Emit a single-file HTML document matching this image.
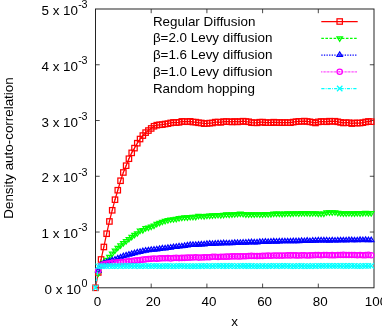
<!DOCTYPE html>
<html><head><meta charset="utf-8"><title>plot</title>
<style>html,body{margin:0;padding:0;background:#fff;overflow:hidden}body{width:382px;height:331px;position:relative;font-family:"Liberation Sans",sans-serif}</style>
</head><body>
<svg width="382" height="331" viewBox="0 0 382 331" style="display:block;position:absolute;left:0;top:0;will-change:transform" font-family="Liberation Sans, sans-serif" font-size="13.4px" fill="#000">
<rect width="382" height="331" fill="#fff"/>
<defs>
<g id="mr"><rect x="-2.7" y="-2.7" width="5.4" height="5.4" fill="none" stroke="#f00" stroke-width="1.25"/><rect x="-0.5" y="-0.5" width="1" height="1" fill="#f00"/></g>
<g id="mg"><path d="M-2.7,-1.35 L2.7,-1.35 L0,3.02 Z" fill="none" stroke="#0f0" stroke-width="1.25" stroke-linejoin="miter"/><rect x="-0.65" y="-0.65" width="1.3" height="1.3" fill="#0f0"/></g>
<g id="mb"><path d="M-2.7,1.35 L2.7,1.35 L0,-3.02 Z" fill="none" stroke="#00f" stroke-width="1.25" stroke-linejoin="miter"/><rect x="-0.65" y="-0.65" width="1.3" height="1.3" fill="#00f"/></g>
<g id="mm"><circle r="2.7" fill="none" stroke="#f0f" stroke-width="1.25"/><rect x="-0.5" y="-0.5" width="1" height="1" fill="#f0f"/></g>
<g id="mc"><path d="M-2.7,-2.7 L2.7,2.7 M-2.7,2.7 L2.7,-2.7" fill="none" stroke="#0ff" stroke-width="1.25"/></g>
</defs>
<rect x="95.5" y="9.0" width="278.5" height="278.8" fill="none" stroke="#1a1a1a" stroke-width="0.95"/>
<text x="97.50" y="305.6" text-anchor="middle">0</text>
<text x="86.9" y="293.80" text-anchor="end">0 x 10<tspan font-size="10.72px" dx="0.4" dy="-6.6" letter-spacing="-0.5">0</tspan></text>
<path d="M151.20,287.8 v-4.2 M151.20,9.0 v4.2 M95.5,232.04 h4.2 M374.0,232.04 h-4.2" stroke="#1a1a1a" stroke-width="0.8" fill="none"/>
<text x="153.20" y="305.6" text-anchor="middle">20</text>
<text x="86.9" y="238.04" text-anchor="end">1 x 10<tspan font-size="10.72px" dx="0.4" dy="-6.6" letter-spacing="-0.5">-3</tspan></text>
<path d="M206.90,287.8 v-4.2 M206.90,9.0 v4.2 M95.5,176.28 h4.2 M374.0,176.28 h-4.2" stroke="#1a1a1a" stroke-width="0.8" fill="none"/>
<text x="208.90" y="305.6" text-anchor="middle">40</text>
<text x="86.9" y="182.28" text-anchor="end">2 x 10<tspan font-size="10.72px" dx="0.4" dy="-6.6" letter-spacing="-0.5">-3</tspan></text>
<path d="M262.60,287.8 v-4.2 M262.60,9.0 v4.2 M95.5,120.52 h4.2 M374.0,120.52 h-4.2" stroke="#1a1a1a" stroke-width="0.8" fill="none"/>
<text x="264.60" y="305.6" text-anchor="middle">60</text>
<text x="86.9" y="126.52" text-anchor="end">3 x 10<tspan font-size="10.72px" dx="0.4" dy="-6.6" letter-spacing="-0.5">-3</tspan></text>
<path d="M318.30,287.8 v-4.2 M318.30,9.0 v4.2 M95.5,64.76 h4.2 M374.0,64.76 h-4.2" stroke="#1a1a1a" stroke-width="0.8" fill="none"/>
<text x="320.30" y="305.6" text-anchor="middle">80</text>
<text x="86.9" y="70.76" text-anchor="end">4 x 10<tspan font-size="10.72px" dx="0.4" dy="-6.6" letter-spacing="-0.5">-3</tspan></text>
<text x="376.00" y="305.6" text-anchor="middle">100</text>
<text x="86.9" y="15.00" text-anchor="end">5 x 10<tspan font-size="10.72px" dx="0.4" dy="-6.6" letter-spacing="-0.5">-3</tspan></text>
<clipPath id="cp"><rect x="0" y="0" width="382" height="331"/></clipPath>
<polyline points="95.50,287.80 98.28,272.47 101.07,259.47 103.86,246.98 106.64,233.71 109.42,221.45 112.21,210.29 115.00,199.70 117.78,190.22 120.56,180.74 123.35,172.49 126.14,165.69 128.92,158.72 131.70,152.86 134.49,148.12 137.28,143.21 140.06,139.03 142.84,135.58 145.63,132.62 148.41,130.56 151.20,128.44 153.99,126.26 156.77,125.15 159.56,124.78 162.34,124.62 165.12,124.03 167.91,123.68 170.69,122.93 173.48,122.44 176.26,122.59 179.05,122.34 181.83,121.41 184.62,121.57 187.41,121.74 190.19,121.34 192.97,122.05 195.76,122.13 198.55,122.77 201.33,122.98 204.12,123.65 206.90,123.44 209.69,123.11 212.47,122.97 215.25,122.14 218.04,122.05 220.82,122.36 223.61,121.60 226.40,121.58 229.18,121.71 231.97,121.98 234.75,121.47 237.53,121.92 240.32,121.54 243.10,121.18 245.89,121.53 248.68,121.78 251.46,122.62 254.25,122.75 257.03,122.83 259.81,122.19 262.60,122.11 265.38,122.63 268.17,122.67 270.96,122.68 273.74,122.17 276.52,122.63 279.31,122.47 282.10,122.70 284.88,122.53 287.66,122.64 290.45,122.70 293.24,122.11 296.02,121.72 298.81,121.36 301.59,121.41 304.38,121.10 307.16,121.49 309.94,121.82 312.73,122.33 315.51,122.96 318.30,121.89 321.09,121.55 323.87,121.60 326.65,121.77 329.44,121.18 332.23,121.35 335.01,121.22 337.79,121.79 340.58,122.39 343.37,122.97 346.15,122.69 348.94,122.73 351.72,123.58 354.50,122.94 357.29,123.05 360.07,123.05 362.86,122.66 365.64,121.97 368.43,121.47 371.21,121.66" fill="none" stroke="#f00" stroke-width="1.25"/>
<use href="#mr" x="95.50" y="287.80"/>
<use href="#mr" x="98.28" y="272.47"/>
<use href="#mr" x="101.07" y="259.47"/>
<use href="#mr" x="103.86" y="246.98"/>
<use href="#mr" x="106.64" y="233.71"/>
<use href="#mr" x="109.42" y="221.45"/>
<use href="#mr" x="112.21" y="210.29"/>
<use href="#mr" x="115.00" y="199.70"/>
<use href="#mr" x="117.78" y="190.22"/>
<use href="#mr" x="120.56" y="180.74"/>
<use href="#mr" x="123.35" y="172.49"/>
<use href="#mr" x="126.14" y="165.69"/>
<use href="#mr" x="128.92" y="158.72"/>
<use href="#mr" x="131.70" y="152.86"/>
<use href="#mr" x="134.49" y="148.12"/>
<use href="#mr" x="137.28" y="143.21"/>
<use href="#mr" x="140.06" y="139.03"/>
<use href="#mr" x="142.84" y="135.58"/>
<use href="#mr" x="145.63" y="132.62"/>
<use href="#mr" x="148.41" y="130.56"/>
<use href="#mr" x="151.20" y="128.44"/>
<use href="#mr" x="153.99" y="126.26"/>
<use href="#mr" x="156.77" y="125.15"/>
<use href="#mr" x="159.56" y="124.78"/>
<use href="#mr" x="162.34" y="124.62"/>
<use href="#mr" x="165.12" y="124.03"/>
<use href="#mr" x="167.91" y="123.68"/>
<use href="#mr" x="170.69" y="122.93"/>
<use href="#mr" x="173.48" y="122.44"/>
<use href="#mr" x="176.26" y="122.59"/>
<use href="#mr" x="179.05" y="122.34"/>
<use href="#mr" x="181.83" y="121.41"/>
<use href="#mr" x="184.62" y="121.57"/>
<use href="#mr" x="187.41" y="121.74"/>
<use href="#mr" x="190.19" y="121.34"/>
<use href="#mr" x="192.97" y="122.05"/>
<use href="#mr" x="195.76" y="122.13"/>
<use href="#mr" x="198.55" y="122.77"/>
<use href="#mr" x="201.33" y="122.98"/>
<use href="#mr" x="204.12" y="123.65"/>
<use href="#mr" x="206.90" y="123.44"/>
<use href="#mr" x="209.69" y="123.11"/>
<use href="#mr" x="212.47" y="122.97"/>
<use href="#mr" x="215.25" y="122.14"/>
<use href="#mr" x="218.04" y="122.05"/>
<use href="#mr" x="220.82" y="122.36"/>
<use href="#mr" x="223.61" y="121.60"/>
<use href="#mr" x="226.40" y="121.58"/>
<use href="#mr" x="229.18" y="121.71"/>
<use href="#mr" x="231.97" y="121.98"/>
<use href="#mr" x="234.75" y="121.47"/>
<use href="#mr" x="237.53" y="121.92"/>
<use href="#mr" x="240.32" y="121.54"/>
<use href="#mr" x="243.10" y="121.18"/>
<use href="#mr" x="245.89" y="121.53"/>
<use href="#mr" x="248.68" y="121.78"/>
<use href="#mr" x="251.46" y="122.62"/>
<use href="#mr" x="254.25" y="122.75"/>
<use href="#mr" x="257.03" y="122.83"/>
<use href="#mr" x="259.81" y="122.19"/>
<use href="#mr" x="262.60" y="122.11"/>
<use href="#mr" x="265.38" y="122.63"/>
<use href="#mr" x="268.17" y="122.67"/>
<use href="#mr" x="270.96" y="122.68"/>
<use href="#mr" x="273.74" y="122.17"/>
<use href="#mr" x="276.52" y="122.63"/>
<use href="#mr" x="279.31" y="122.47"/>
<use href="#mr" x="282.10" y="122.70"/>
<use href="#mr" x="284.88" y="122.53"/>
<use href="#mr" x="287.66" y="122.64"/>
<use href="#mr" x="290.45" y="122.70"/>
<use href="#mr" x="293.24" y="122.11"/>
<use href="#mr" x="296.02" y="121.72"/>
<use href="#mr" x="298.81" y="121.36"/>
<use href="#mr" x="301.59" y="121.41"/>
<use href="#mr" x="304.38" y="121.10"/>
<use href="#mr" x="307.16" y="121.49"/>
<use href="#mr" x="309.94" y="121.82"/>
<use href="#mr" x="312.73" y="122.33"/>
<use href="#mr" x="315.51" y="122.96"/>
<use href="#mr" x="318.30" y="121.89"/>
<use href="#mr" x="321.09" y="121.55"/>
<use href="#mr" x="323.87" y="121.60"/>
<use href="#mr" x="326.65" y="121.77"/>
<use href="#mr" x="329.44" y="121.18"/>
<use href="#mr" x="332.23" y="121.35"/>
<use href="#mr" x="335.01" y="121.22"/>
<use href="#mr" x="337.79" y="121.79"/>
<use href="#mr" x="340.58" y="122.39"/>
<use href="#mr" x="343.37" y="122.97"/>
<use href="#mr" x="346.15" y="122.69"/>
<use href="#mr" x="348.94" y="122.73"/>
<use href="#mr" x="351.72" y="123.58"/>
<use href="#mr" x="354.50" y="122.94"/>
<use href="#mr" x="357.29" y="123.05"/>
<use href="#mr" x="360.07" y="123.05"/>
<use href="#mr" x="362.86" y="122.66"/>
<use href="#mr" x="365.64" y="121.97"/>
<use href="#mr" x="368.43" y="121.47"/>
<use href="#mr" x="371.21" y="121.66"/>
<polyline points="98.28,273.30 101.07,264.94 103.86,262.43 106.64,259.64 109.42,256.69 112.21,253.51 115.00,250.39 117.78,247.65 120.56,245.26 123.35,243.02 126.14,241.07 128.92,238.90 131.70,236.84 134.49,234.77 137.28,233.10 140.06,230.48 142.84,229.92 145.63,228.03 148.41,227.58 151.20,226.46 153.99,225.52 156.77,223.79 159.56,222.67 162.34,221.61 165.12,220.84 167.91,220.08 170.69,219.38 173.48,219.12 176.26,218.81 179.05,218.03 181.83,217.62 184.62,217.23 187.41,217.30 190.19,216.91 192.97,216.70 195.76,216.68 198.55,215.67 201.33,215.90 204.12,216.00 206.90,215.66 209.69,215.57 212.47,215.32 215.25,215.12 218.04,214.90 220.82,214.94 223.61,214.82 226.40,214.34 229.18,214.52 231.97,214.17 234.75,214.13 237.53,213.87 240.32,213.51 243.10,213.87 245.89,214.21 248.68,214.27 251.46,214.28 254.25,214.25 257.03,214.11 259.81,214.24 262.60,214.22 265.38,214.03 268.17,214.10 270.96,213.92 273.74,213.47 276.52,213.56 279.31,213.49 282.10,213.67 284.88,213.43 287.66,213.30 290.45,213.49 293.24,213.18 296.02,213.13 298.81,213.35 301.59,213.07 304.38,213.10 307.16,213.04 309.94,213.23 312.73,213.11 315.51,213.14 318.30,213.57 321.09,213.66 323.87,213.49 326.65,212.24 329.44,212.30 332.23,212.21 335.01,212.15 337.79,212.72 340.58,213.15 343.37,213.20 346.15,213.20 348.94,213.13 351.72,213.26 354.50,213.17 357.29,212.93 360.07,213.20 362.86,212.93 365.64,212.84 368.43,213.02 371.21,213.04" fill="none" stroke="#0f0" stroke-width="1.25" stroke-dasharray="2.6 1.5"/>
<use href="#mg" x="98.28" y="273.30"/>
<use href="#mg" x="101.07" y="264.94"/>
<use href="#mg" x="103.86" y="262.43"/>
<use href="#mg" x="106.64" y="259.64"/>
<use href="#mg" x="109.42" y="256.69"/>
<use href="#mg" x="112.21" y="253.51"/>
<use href="#mg" x="115.00" y="250.39"/>
<use href="#mg" x="117.78" y="247.65"/>
<use href="#mg" x="120.56" y="245.26"/>
<use href="#mg" x="123.35" y="243.02"/>
<use href="#mg" x="126.14" y="241.07"/>
<use href="#mg" x="128.92" y="238.90"/>
<use href="#mg" x="131.70" y="236.84"/>
<use href="#mg" x="134.49" y="234.77"/>
<use href="#mg" x="137.28" y="233.10"/>
<use href="#mg" x="140.06" y="230.48"/>
<use href="#mg" x="142.84" y="229.92"/>
<use href="#mg" x="145.63" y="228.03"/>
<use href="#mg" x="148.41" y="227.58"/>
<use href="#mg" x="151.20" y="226.46"/>
<use href="#mg" x="153.99" y="225.52"/>
<use href="#mg" x="156.77" y="223.79"/>
<use href="#mg" x="159.56" y="222.67"/>
<use href="#mg" x="162.34" y="221.61"/>
<use href="#mg" x="165.12" y="220.84"/>
<use href="#mg" x="167.91" y="220.08"/>
<use href="#mg" x="170.69" y="219.38"/>
<use href="#mg" x="173.48" y="219.12"/>
<use href="#mg" x="176.26" y="218.81"/>
<use href="#mg" x="179.05" y="218.03"/>
<use href="#mg" x="181.83" y="217.62"/>
<use href="#mg" x="184.62" y="217.23"/>
<use href="#mg" x="187.41" y="217.30"/>
<use href="#mg" x="190.19" y="216.91"/>
<use href="#mg" x="192.97" y="216.70"/>
<use href="#mg" x="195.76" y="216.68"/>
<use href="#mg" x="198.55" y="215.67"/>
<use href="#mg" x="201.33" y="215.90"/>
<use href="#mg" x="204.12" y="216.00"/>
<use href="#mg" x="206.90" y="215.66"/>
<use href="#mg" x="209.69" y="215.57"/>
<use href="#mg" x="212.47" y="215.32"/>
<use href="#mg" x="215.25" y="215.12"/>
<use href="#mg" x="218.04" y="214.90"/>
<use href="#mg" x="220.82" y="214.94"/>
<use href="#mg" x="223.61" y="214.82"/>
<use href="#mg" x="226.40" y="214.34"/>
<use href="#mg" x="229.18" y="214.52"/>
<use href="#mg" x="231.97" y="214.17"/>
<use href="#mg" x="234.75" y="214.13"/>
<use href="#mg" x="237.53" y="213.87"/>
<use href="#mg" x="240.32" y="213.51"/>
<use href="#mg" x="243.10" y="213.87"/>
<use href="#mg" x="245.89" y="214.21"/>
<use href="#mg" x="248.68" y="214.27"/>
<use href="#mg" x="251.46" y="214.28"/>
<use href="#mg" x="254.25" y="214.25"/>
<use href="#mg" x="257.03" y="214.11"/>
<use href="#mg" x="259.81" y="214.24"/>
<use href="#mg" x="262.60" y="214.22"/>
<use href="#mg" x="265.38" y="214.03"/>
<use href="#mg" x="268.17" y="214.10"/>
<use href="#mg" x="270.96" y="213.92"/>
<use href="#mg" x="273.74" y="213.47"/>
<use href="#mg" x="276.52" y="213.56"/>
<use href="#mg" x="279.31" y="213.49"/>
<use href="#mg" x="282.10" y="213.67"/>
<use href="#mg" x="284.88" y="213.43"/>
<use href="#mg" x="287.66" y="213.30"/>
<use href="#mg" x="290.45" y="213.49"/>
<use href="#mg" x="293.24" y="213.18"/>
<use href="#mg" x="296.02" y="213.13"/>
<use href="#mg" x="298.81" y="213.35"/>
<use href="#mg" x="301.59" y="213.07"/>
<use href="#mg" x="304.38" y="213.10"/>
<use href="#mg" x="307.16" y="213.04"/>
<use href="#mg" x="309.94" y="213.23"/>
<use href="#mg" x="312.73" y="213.11"/>
<use href="#mg" x="315.51" y="213.14"/>
<use href="#mg" x="318.30" y="213.57"/>
<use href="#mg" x="321.09" y="213.66"/>
<use href="#mg" x="323.87" y="213.49"/>
<use href="#mg" x="326.65" y="212.24"/>
<use href="#mg" x="329.44" y="212.30"/>
<use href="#mg" x="332.23" y="212.21"/>
<use href="#mg" x="335.01" y="212.15"/>
<use href="#mg" x="337.79" y="212.72"/>
<use href="#mg" x="340.58" y="213.15"/>
<use href="#mg" x="343.37" y="213.20"/>
<use href="#mg" x="346.15" y="213.20"/>
<use href="#mg" x="348.94" y="213.13"/>
<use href="#mg" x="351.72" y="213.26"/>
<use href="#mg" x="354.50" y="213.17"/>
<use href="#mg" x="357.29" y="212.93"/>
<use href="#mg" x="360.07" y="213.20"/>
<use href="#mg" x="362.86" y="212.93"/>
<use href="#mg" x="365.64" y="212.84"/>
<use href="#mg" x="368.43" y="213.02"/>
<use href="#mg" x="371.21" y="213.04"/>
<polyline points="98.28,271.07 101.07,264.94 103.86,263.27 106.64,262.15 109.42,261.31 112.21,260.48 115.00,259.64 117.78,258.53 120.56,257.41 123.35,256.30 126.14,255.46 128.92,254.73 131.70,253.95 134.49,253.26 137.28,252.56 140.06,251.91 142.84,251.25 145.63,250.77 148.41,250.35 151.20,249.84 153.99,249.75 156.77,249.44 159.56,248.99 162.34,248.54 165.12,248.47 167.91,248.04 170.69,247.69 173.48,247.12 176.26,246.95 179.05,246.41 181.83,246.36 184.62,245.94 187.41,245.45 190.19,245.01 192.97,245.03 195.76,244.95 198.55,244.82 201.33,244.46 204.12,244.43 206.90,243.98 209.69,243.78 212.47,243.97 215.25,243.82 218.04,243.49 220.82,243.46 223.61,243.29 226.40,243.39 229.18,243.39 231.97,243.21 234.75,242.89 237.53,243.02 240.32,242.89 243.10,242.76 245.89,242.65 248.68,242.56 251.46,242.24 254.25,242.50 257.03,242.48 259.81,241.98 262.60,241.93 265.38,241.80 268.17,241.96 270.96,241.65 273.74,241.58 276.52,241.81 279.31,241.50 282.10,241.38 284.88,241.37 287.66,241.35 290.45,241.38 293.24,241.30 296.02,241.30 298.81,241.32 301.59,241.03 304.38,241.11 307.16,240.82 309.94,241.11 312.73,240.67 315.51,240.71 318.30,240.55 321.09,240.51 323.87,240.46 326.65,240.55 329.44,240.74 332.23,240.38 335.01,240.61 337.79,240.53 340.58,240.34 343.37,240.38 346.15,240.40 348.94,240.14 351.72,240.26 354.50,240.35 357.29,240.37 360.07,240.07 362.86,240.21 365.64,240.05 368.43,240.22 371.21,240.26" fill="none" stroke="#00f" stroke-width="1.25" stroke-dasharray="1.3 1.3"/>
<use href="#mb" x="98.28" y="271.07"/>
<use href="#mb" x="101.07" y="264.94"/>
<use href="#mb" x="103.86" y="263.27"/>
<use href="#mb" x="106.64" y="262.15"/>
<use href="#mb" x="109.42" y="261.31"/>
<use href="#mb" x="112.21" y="260.48"/>
<use href="#mb" x="115.00" y="259.64"/>
<use href="#mb" x="117.78" y="258.53"/>
<use href="#mb" x="120.56" y="257.41"/>
<use href="#mb" x="123.35" y="256.30"/>
<use href="#mb" x="126.14" y="255.46"/>
<use href="#mb" x="128.92" y="254.73"/>
<use href="#mb" x="131.70" y="253.95"/>
<use href="#mb" x="134.49" y="253.26"/>
<use href="#mb" x="137.28" y="252.56"/>
<use href="#mb" x="140.06" y="251.91"/>
<use href="#mb" x="142.84" y="251.25"/>
<use href="#mb" x="145.63" y="250.77"/>
<use href="#mb" x="148.41" y="250.35"/>
<use href="#mb" x="151.20" y="249.84"/>
<use href="#mb" x="153.99" y="249.75"/>
<use href="#mb" x="156.77" y="249.44"/>
<use href="#mb" x="159.56" y="248.99"/>
<use href="#mb" x="162.34" y="248.54"/>
<use href="#mb" x="165.12" y="248.47"/>
<use href="#mb" x="167.91" y="248.04"/>
<use href="#mb" x="170.69" y="247.69"/>
<use href="#mb" x="173.48" y="247.12"/>
<use href="#mb" x="176.26" y="246.95"/>
<use href="#mb" x="179.05" y="246.41"/>
<use href="#mb" x="181.83" y="246.36"/>
<use href="#mb" x="184.62" y="245.94"/>
<use href="#mb" x="187.41" y="245.45"/>
<use href="#mb" x="190.19" y="245.01"/>
<use href="#mb" x="192.97" y="245.03"/>
<use href="#mb" x="195.76" y="244.95"/>
<use href="#mb" x="198.55" y="244.82"/>
<use href="#mb" x="201.33" y="244.46"/>
<use href="#mb" x="204.12" y="244.43"/>
<use href="#mb" x="206.90" y="243.98"/>
<use href="#mb" x="209.69" y="243.78"/>
<use href="#mb" x="212.47" y="243.97"/>
<use href="#mb" x="215.25" y="243.82"/>
<use href="#mb" x="218.04" y="243.49"/>
<use href="#mb" x="220.82" y="243.46"/>
<use href="#mb" x="223.61" y="243.29"/>
<use href="#mb" x="226.40" y="243.39"/>
<use href="#mb" x="229.18" y="243.39"/>
<use href="#mb" x="231.97" y="243.21"/>
<use href="#mb" x="234.75" y="242.89"/>
<use href="#mb" x="237.53" y="243.02"/>
<use href="#mb" x="240.32" y="242.89"/>
<use href="#mb" x="243.10" y="242.76"/>
<use href="#mb" x="245.89" y="242.65"/>
<use href="#mb" x="248.68" y="242.56"/>
<use href="#mb" x="251.46" y="242.24"/>
<use href="#mb" x="254.25" y="242.50"/>
<use href="#mb" x="257.03" y="242.48"/>
<use href="#mb" x="259.81" y="241.98"/>
<use href="#mb" x="262.60" y="241.93"/>
<use href="#mb" x="265.38" y="241.80"/>
<use href="#mb" x="268.17" y="241.96"/>
<use href="#mb" x="270.96" y="241.65"/>
<use href="#mb" x="273.74" y="241.58"/>
<use href="#mb" x="276.52" y="241.81"/>
<use href="#mb" x="279.31" y="241.50"/>
<use href="#mb" x="282.10" y="241.38"/>
<use href="#mb" x="284.88" y="241.37"/>
<use href="#mb" x="287.66" y="241.35"/>
<use href="#mb" x="290.45" y="241.38"/>
<use href="#mb" x="293.24" y="241.30"/>
<use href="#mb" x="296.02" y="241.30"/>
<use href="#mb" x="298.81" y="241.32"/>
<use href="#mb" x="301.59" y="241.03"/>
<use href="#mb" x="304.38" y="241.11"/>
<use href="#mb" x="307.16" y="240.82"/>
<use href="#mb" x="309.94" y="241.11"/>
<use href="#mb" x="312.73" y="240.67"/>
<use href="#mb" x="315.51" y="240.71"/>
<use href="#mb" x="318.30" y="240.55"/>
<use href="#mb" x="321.09" y="240.51"/>
<use href="#mb" x="323.87" y="240.46"/>
<use href="#mb" x="326.65" y="240.55"/>
<use href="#mb" x="329.44" y="240.74"/>
<use href="#mb" x="332.23" y="240.38"/>
<use href="#mb" x="335.01" y="240.61"/>
<use href="#mb" x="337.79" y="240.53"/>
<use href="#mb" x="340.58" y="240.34"/>
<use href="#mb" x="343.37" y="240.38"/>
<use href="#mb" x="346.15" y="240.40"/>
<use href="#mb" x="348.94" y="240.14"/>
<use href="#mb" x="351.72" y="240.26"/>
<use href="#mb" x="354.50" y="240.35"/>
<use href="#mb" x="357.29" y="240.37"/>
<use href="#mb" x="360.07" y="240.07"/>
<use href="#mb" x="362.86" y="240.21"/>
<use href="#mb" x="365.64" y="240.05"/>
<use href="#mb" x="368.43" y="240.22"/>
<use href="#mb" x="371.21" y="240.26"/>
<polyline points="98.28,270.51 101.07,265.50 103.86,264.38 106.64,263.82 109.42,263.27 112.21,262.93 115.00,262.63 117.78,262.41 120.56,262.19 123.35,261.97 126.14,261.66 128.92,261.33 131.70,261.00 134.49,260.67 137.28,260.34 140.06,260.01 142.84,259.68 145.63,259.35 148.41,259.01 151.20,258.76 153.99,258.54 156.77,258.75 159.56,258.38 162.34,258.24 165.12,258.21 167.91,258.11 170.69,258.39 173.48,258.03 176.26,257.84 179.05,258.11 181.83,257.93 184.62,257.84 187.41,257.64 190.19,257.60 192.97,257.50 195.76,257.29 198.55,257.56 201.33,257.46 204.12,257.35 206.90,257.27 209.69,257.22 212.47,256.75 215.25,256.73 218.04,257.00 220.82,256.75 223.61,256.76 226.40,256.69 229.18,256.61 231.97,256.40 234.75,256.36 237.53,256.39 240.32,256.40 243.10,256.27 245.89,256.29 248.68,256.03 251.46,255.90 254.25,256.01 257.03,256.10 259.81,256.01 262.60,255.88 265.38,255.73 268.17,255.61 270.96,255.75 273.74,255.52 276.52,255.55 279.31,255.60 282.10,255.58 284.88,255.48 287.66,255.35 290.45,255.44 293.24,255.29 296.02,255.38 298.81,255.46 301.59,255.31 304.38,255.22 307.16,255.47 309.94,255.30 312.73,255.28 315.51,255.06 318.30,255.01 321.09,255.24 323.87,254.99 326.65,255.02 329.44,255.23 332.23,255.13 335.01,255.28 337.79,254.96 340.58,255.02 343.37,254.92 346.15,254.95 348.94,255.00 351.72,254.96 354.50,255.03 357.29,255.23 360.07,255.00 362.86,255.26 365.64,255.19 368.43,254.90 371.21,255.22" fill="none" stroke="#f0f" stroke-width="1.25" stroke-dasharray="0.7 0.7"/>
<use href="#mm" x="98.28" y="270.51"/>
<use href="#mm" x="101.07" y="265.50"/>
<use href="#mm" x="103.86" y="264.38"/>
<use href="#mm" x="106.64" y="263.82"/>
<use href="#mm" x="109.42" y="263.27"/>
<use href="#mm" x="112.21" y="262.93"/>
<use href="#mm" x="115.00" y="262.63"/>
<use href="#mm" x="117.78" y="262.41"/>
<use href="#mm" x="120.56" y="262.19"/>
<use href="#mm" x="123.35" y="261.97"/>
<use href="#mm" x="126.14" y="261.66"/>
<use href="#mm" x="128.92" y="261.33"/>
<use href="#mm" x="131.70" y="261.00"/>
<use href="#mm" x="134.49" y="260.67"/>
<use href="#mm" x="137.28" y="260.34"/>
<use href="#mm" x="140.06" y="260.01"/>
<use href="#mm" x="142.84" y="259.68"/>
<use href="#mm" x="145.63" y="259.35"/>
<use href="#mm" x="148.41" y="259.01"/>
<use href="#mm" x="151.20" y="258.76"/>
<use href="#mm" x="153.99" y="258.54"/>
<use href="#mm" x="156.77" y="258.75"/>
<use href="#mm" x="159.56" y="258.38"/>
<use href="#mm" x="162.34" y="258.24"/>
<use href="#mm" x="165.12" y="258.21"/>
<use href="#mm" x="167.91" y="258.11"/>
<use href="#mm" x="170.69" y="258.39"/>
<use href="#mm" x="173.48" y="258.03"/>
<use href="#mm" x="176.26" y="257.84"/>
<use href="#mm" x="179.05" y="258.11"/>
<use href="#mm" x="181.83" y="257.93"/>
<use href="#mm" x="184.62" y="257.84"/>
<use href="#mm" x="187.41" y="257.64"/>
<use href="#mm" x="190.19" y="257.60"/>
<use href="#mm" x="192.97" y="257.50"/>
<use href="#mm" x="195.76" y="257.29"/>
<use href="#mm" x="198.55" y="257.56"/>
<use href="#mm" x="201.33" y="257.46"/>
<use href="#mm" x="204.12" y="257.35"/>
<use href="#mm" x="206.90" y="257.27"/>
<use href="#mm" x="209.69" y="257.22"/>
<use href="#mm" x="212.47" y="256.75"/>
<use href="#mm" x="215.25" y="256.73"/>
<use href="#mm" x="218.04" y="257.00"/>
<use href="#mm" x="220.82" y="256.75"/>
<use href="#mm" x="223.61" y="256.76"/>
<use href="#mm" x="226.40" y="256.69"/>
<use href="#mm" x="229.18" y="256.61"/>
<use href="#mm" x="231.97" y="256.40"/>
<use href="#mm" x="234.75" y="256.36"/>
<use href="#mm" x="237.53" y="256.39"/>
<use href="#mm" x="240.32" y="256.40"/>
<use href="#mm" x="243.10" y="256.27"/>
<use href="#mm" x="245.89" y="256.29"/>
<use href="#mm" x="248.68" y="256.03"/>
<use href="#mm" x="251.46" y="255.90"/>
<use href="#mm" x="254.25" y="256.01"/>
<use href="#mm" x="257.03" y="256.10"/>
<use href="#mm" x="259.81" y="256.01"/>
<use href="#mm" x="262.60" y="255.88"/>
<use href="#mm" x="265.38" y="255.73"/>
<use href="#mm" x="268.17" y="255.61"/>
<use href="#mm" x="270.96" y="255.75"/>
<use href="#mm" x="273.74" y="255.52"/>
<use href="#mm" x="276.52" y="255.55"/>
<use href="#mm" x="279.31" y="255.60"/>
<use href="#mm" x="282.10" y="255.58"/>
<use href="#mm" x="284.88" y="255.48"/>
<use href="#mm" x="287.66" y="255.35"/>
<use href="#mm" x="290.45" y="255.44"/>
<use href="#mm" x="293.24" y="255.29"/>
<use href="#mm" x="296.02" y="255.38"/>
<use href="#mm" x="298.81" y="255.46"/>
<use href="#mm" x="301.59" y="255.31"/>
<use href="#mm" x="304.38" y="255.22"/>
<use href="#mm" x="307.16" y="255.47"/>
<use href="#mm" x="309.94" y="255.30"/>
<use href="#mm" x="312.73" y="255.28"/>
<use href="#mm" x="315.51" y="255.06"/>
<use href="#mm" x="318.30" y="255.01"/>
<use href="#mm" x="321.09" y="255.24"/>
<use href="#mm" x="323.87" y="254.99"/>
<use href="#mm" x="326.65" y="255.02"/>
<use href="#mm" x="329.44" y="255.23"/>
<use href="#mm" x="332.23" y="255.13"/>
<use href="#mm" x="335.01" y="255.28"/>
<use href="#mm" x="337.79" y="254.96"/>
<use href="#mm" x="340.58" y="255.02"/>
<use href="#mm" x="343.37" y="254.92"/>
<use href="#mm" x="346.15" y="254.95"/>
<use href="#mm" x="348.94" y="255.00"/>
<use href="#mm" x="351.72" y="254.96"/>
<use href="#mm" x="354.50" y="255.03"/>
<use href="#mm" x="357.29" y="255.23"/>
<use href="#mm" x="360.07" y="255.00"/>
<use href="#mm" x="362.86" y="255.26"/>
<use href="#mm" x="365.64" y="255.19"/>
<use href="#mm" x="368.43" y="254.90"/>
<use href="#mm" x="371.21" y="255.22"/>
<polyline points="95.50,287.80 98.28,266.33 101.07,266.05 103.86,266.19 106.64,266.19 109.42,265.92 112.21,266.16 115.00,266.21 117.78,265.93 120.56,266.17 123.35,265.93 126.14,265.99 128.92,265.93 131.70,265.89 134.49,266.01 137.28,265.94 140.06,266.19 142.84,265.95 145.63,266.03 148.41,265.96 151.20,266.16 153.99,265.95 156.77,265.89 159.56,266.18 162.34,266.09 165.12,266.01 167.91,265.92 170.69,266.11 173.48,266.13 176.26,266.11 179.05,265.98 181.83,265.94 184.62,266.06 187.41,266.06 190.19,266.05 192.97,266.07 195.76,266.04 198.55,266.15 201.33,266.01 204.12,265.85 206.90,266.04 209.69,265.93 212.47,266.12 215.25,265.94 218.04,265.92 220.82,265.95 223.61,266.00 226.40,266.01 229.18,265.95 231.97,265.87 234.75,266.12 237.53,266.13 240.32,265.91 243.10,265.86 245.89,265.99 248.68,266.01 251.46,265.92 254.25,266.10 257.03,266.07 259.81,266.09 262.60,265.96 265.38,266.05 268.17,266.07 270.96,265.92 273.74,265.83 276.52,266.05 279.31,265.91 282.10,266.01 284.88,265.86 287.66,265.95 290.45,266.05 293.24,266.07 296.02,266.13 298.81,265.98 301.59,266.01 304.38,266.08 307.16,266.02 309.94,266.03 312.73,265.88 315.51,266.09 318.30,265.80 321.09,265.97 323.87,265.93 326.65,265.97 329.44,265.85 332.23,265.85 335.01,265.94 337.79,265.96 340.58,265.88 343.37,265.84 346.15,265.99 348.94,265.87 351.72,265.80 354.50,265.96 357.29,266.04 360.07,266.04 362.86,265.87 365.64,265.89 368.43,265.79 371.21,265.82" fill="none" stroke="#0ff" stroke-width="1.25" stroke-dasharray="3.2 1.2 0.8 1.2"/>
<use href="#mc" x="95.50" y="287.80"/>
<use href="#mc" x="98.28" y="266.33"/>
<use href="#mc" x="101.07" y="266.05"/>
<use href="#mc" x="103.86" y="266.19"/>
<use href="#mc" x="106.64" y="266.19"/>
<use href="#mc" x="109.42" y="265.92"/>
<use href="#mc" x="112.21" y="266.16"/>
<use href="#mc" x="115.00" y="266.21"/>
<use href="#mc" x="117.78" y="265.93"/>
<use href="#mc" x="120.56" y="266.17"/>
<use href="#mc" x="123.35" y="265.93"/>
<use href="#mc" x="126.14" y="265.99"/>
<use href="#mc" x="128.92" y="265.93"/>
<use href="#mc" x="131.70" y="265.89"/>
<use href="#mc" x="134.49" y="266.01"/>
<use href="#mc" x="137.28" y="265.94"/>
<use href="#mc" x="140.06" y="266.19"/>
<use href="#mc" x="142.84" y="265.95"/>
<use href="#mc" x="145.63" y="266.03"/>
<use href="#mc" x="148.41" y="265.96"/>
<use href="#mc" x="151.20" y="266.16"/>
<use href="#mc" x="153.99" y="265.95"/>
<use href="#mc" x="156.77" y="265.89"/>
<use href="#mc" x="159.56" y="266.18"/>
<use href="#mc" x="162.34" y="266.09"/>
<use href="#mc" x="165.12" y="266.01"/>
<use href="#mc" x="167.91" y="265.92"/>
<use href="#mc" x="170.69" y="266.11"/>
<use href="#mc" x="173.48" y="266.13"/>
<use href="#mc" x="176.26" y="266.11"/>
<use href="#mc" x="179.05" y="265.98"/>
<use href="#mc" x="181.83" y="265.94"/>
<use href="#mc" x="184.62" y="266.06"/>
<use href="#mc" x="187.41" y="266.06"/>
<use href="#mc" x="190.19" y="266.05"/>
<use href="#mc" x="192.97" y="266.07"/>
<use href="#mc" x="195.76" y="266.04"/>
<use href="#mc" x="198.55" y="266.15"/>
<use href="#mc" x="201.33" y="266.01"/>
<use href="#mc" x="204.12" y="265.85"/>
<use href="#mc" x="206.90" y="266.04"/>
<use href="#mc" x="209.69" y="265.93"/>
<use href="#mc" x="212.47" y="266.12"/>
<use href="#mc" x="215.25" y="265.94"/>
<use href="#mc" x="218.04" y="265.92"/>
<use href="#mc" x="220.82" y="265.95"/>
<use href="#mc" x="223.61" y="266.00"/>
<use href="#mc" x="226.40" y="266.01"/>
<use href="#mc" x="229.18" y="265.95"/>
<use href="#mc" x="231.97" y="265.87"/>
<use href="#mc" x="234.75" y="266.12"/>
<use href="#mc" x="237.53" y="266.13"/>
<use href="#mc" x="240.32" y="265.91"/>
<use href="#mc" x="243.10" y="265.86"/>
<use href="#mc" x="245.89" y="265.99"/>
<use href="#mc" x="248.68" y="266.01"/>
<use href="#mc" x="251.46" y="265.92"/>
<use href="#mc" x="254.25" y="266.10"/>
<use href="#mc" x="257.03" y="266.07"/>
<use href="#mc" x="259.81" y="266.09"/>
<use href="#mc" x="262.60" y="265.96"/>
<use href="#mc" x="265.38" y="266.05"/>
<use href="#mc" x="268.17" y="266.07"/>
<use href="#mc" x="270.96" y="265.92"/>
<use href="#mc" x="273.74" y="265.83"/>
<use href="#mc" x="276.52" y="266.05"/>
<use href="#mc" x="279.31" y="265.91"/>
<use href="#mc" x="282.10" y="266.01"/>
<use href="#mc" x="284.88" y="265.86"/>
<use href="#mc" x="287.66" y="265.95"/>
<use href="#mc" x="290.45" y="266.05"/>
<use href="#mc" x="293.24" y="266.07"/>
<use href="#mc" x="296.02" y="266.13"/>
<use href="#mc" x="298.81" y="265.98"/>
<use href="#mc" x="301.59" y="266.01"/>
<use href="#mc" x="304.38" y="266.08"/>
<use href="#mc" x="307.16" y="266.02"/>
<use href="#mc" x="309.94" y="266.03"/>
<use href="#mc" x="312.73" y="265.88"/>
<use href="#mc" x="315.51" y="266.09"/>
<use href="#mc" x="318.30" y="265.80"/>
<use href="#mc" x="321.09" y="265.97"/>
<use href="#mc" x="323.87" y="265.93"/>
<use href="#mc" x="326.65" y="265.97"/>
<use href="#mc" x="329.44" y="265.85"/>
<use href="#mc" x="332.23" y="265.85"/>
<use href="#mc" x="335.01" y="265.94"/>
<use href="#mc" x="337.79" y="265.96"/>
<use href="#mc" x="340.58" y="265.88"/>
<use href="#mc" x="343.37" y="265.84"/>
<use href="#mc" x="346.15" y="265.99"/>
<use href="#mc" x="348.94" y="265.87"/>
<use href="#mc" x="351.72" y="265.80"/>
<use href="#mc" x="354.50" y="265.96"/>
<use href="#mc" x="357.29" y="266.04"/>
<use href="#mc" x="360.07" y="266.04"/>
<use href="#mc" x="362.86" y="265.87"/>
<use href="#mc" x="365.64" y="265.89"/>
<use href="#mc" x="368.43" y="265.79"/>
<use href="#mc" x="371.21" y="265.82"/>
<line x1="321.3" y1="21.50" x2="357.7" y2="21.50" stroke="#f00" stroke-width="1.25"/>
<use href="#mr" x="339.7" y="21.50"/>
<text x="152.9" y="25.50">Regular Diffusion</text>
<line x1="321.3" y1="38.25" x2="357.7" y2="38.25" stroke="#0f0" stroke-width="1.25" stroke-dasharray="2.6 1.5"/>
<use href="#mg" x="339.7" y="38.25"/>
<text x="152.9" y="42.25">β=2.0 Levy diffusion</text>
<line x1="321.3" y1="55.00" x2="357.7" y2="55.00" stroke="#00f" stroke-width="1.25" stroke-dasharray="1.3 1.3"/>
<use href="#mb" x="339.7" y="55.00"/>
<text x="152.9" y="59.00">β=1.6 Levy diffusion</text>
<line x1="321.3" y1="71.75" x2="357.7" y2="71.75" stroke="#f0f" stroke-width="1.25" stroke-dasharray="0.7 0.7"/>
<use href="#mm" x="339.7" y="71.75"/>
<text x="152.9" y="75.75">β=1.0 Levy diffusion</text>
<line x1="321.3" y1="88.50" x2="357.7" y2="88.50" stroke="#0ff" stroke-width="1.25" stroke-dasharray="3.2 1.2 0.8 1.2"/>
<use href="#mc" x="339.7" y="88.50"/>
<text x="152.9" y="92.50">Random hopping</text>
<text x="234.5" y="325.7" text-anchor="middle">x</text>
<text transform="translate(13.3,148) rotate(-90)" text-anchor="middle">Density auto-correlation</text>
</svg>
</body></html>
